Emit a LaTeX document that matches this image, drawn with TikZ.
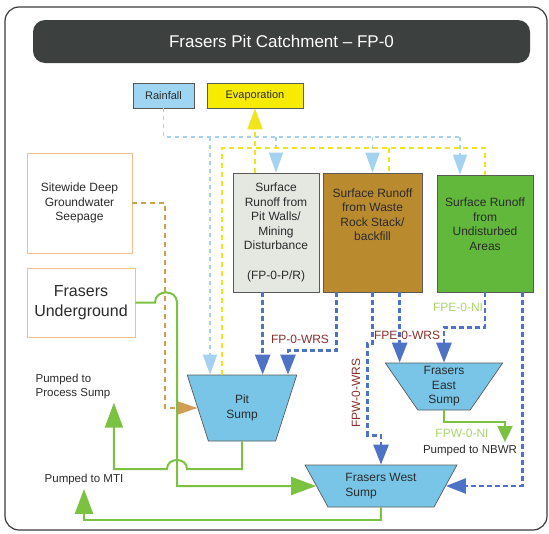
\documentclass[tikz,border=0pt]{standalone}
\usepackage{fontspec}
\setmainfont{Liberation Sans}
\usepackage{tikz}
\usetikzlibrary{shapes.geometric,arrows.meta}
\definecolor{framegray}{HTML}{3A3A3A}
\definecolor{titlegray}{HTML}{3C403E}
\definecolor{inkgray}{HTML}{2B2B2B}
\definecolor{edgegray}{HTML}{5A5A5A}
\definecolor{rainfill}{HTML}{9DD5F2}
\definecolor{evapfill}{HTML}{F7EC00}
\definecolor{gwedge}{HTML}{F2BE8C}
\definecolor{pitfill}{HTML}{E5E7E1}
\definecolor{rockfill}{HTML}{B98A2E}
\definecolor{greenfill}{HTML}{62B83A}
\definecolor{sumpfill}{HTML}{78C5E8}
\definecolor{rainblue}{HTML}{A4D2F0}
\definecolor{evapyellow}{HTML}{F0E41A}
\definecolor{wrsblue}{HTML}{4E72C4}
\definecolor{seeporange}{HTML}{CF9D54}
\definecolor{pumpgreen}{HTML}{7CC242}
\definecolor{wrsred}{HTML}{8A2E2E}
\definecolor{nigreen}{HTML}{A9D66B}

\begin{document}
\begin{tikzpicture}[x=1pt,y=-1pt,
                    every node/.style={text=inkgray,font=\fontsize{12}{14.5}\selectfont},
                    titlebar/.style={fill=titlegray,rounded corners=12pt,text=white,
                                     font=\fontsize{17}{20}\selectfont},
                    metbox/.style={draw=edgegray,line width=0.7pt,inner sep=0pt,
                                   minimum height=25pt,font=\fontsize{11}{13}\selectfont},
                    gwbox/.style={draw=gwedge,line width=0.8pt,fill=white,align=center},
                    runoff/.style={draw=edgegray,line width=0.7pt,align=center},
                    sump/.style={trapezium,trapezium stretches=true,shape border rotate=180,
                                 draw=edgegray,line width=0.7pt,fill=sumpfill,inner sep=0pt,
                                 align=center},
                    wrslabel/.style={text=wrsred,inner sep=1pt},
                    nilabel/.style={text=nigreen,inner sep=1pt},
                    pumplabel/.style={font=\fontsize{11.5}{14.5}\selectfont},
                    raindash/.style={draw=rainblue,line width=1.6pt,dash pattern=on 4pt off 4pt},
                    evapdash/.style={draw=evapyellow,line width=2pt,dash pattern=on 5pt off 4pt},
                    wrsdash/.style={draw=wrsblue,line width=2.6pt,dash pattern=on 5pt off 3pt},
                    seepdash/.style={draw=seeporange,line width=2pt,dash pattern=on 5pt off 4pt},
                    pumpline/.style={draw=pumpgreen,line width=2pt},
                    raintip/.style={-{Triangle[width=14pt,length=20pt,fill=rainblue]}},
                    evaptip/.style={-{Triangle[width=15pt,length=21pt,fill=evapyellow]}},
                    wrstip/.style={-{Triangle[width=15pt,length=20pt,fill=wrsblue]}},
                    seeptip/.style={-{Triangle[width=13pt,length=20pt,fill=seeporange]}},
                    pumptip/.style={-{Triangle[width=18pt,length=25pt,fill=pumpgreen]}},
                    nbwrtip/.style={-{Triangle[width=15pt,length=16pt,fill=pumpgreen]}}]
    \useasboundingbox (0,0) rectangle (549,533);
    \draw[framegray,line width=1.2pt,rounded corners=14pt] (5,7) rectangle (547,530);
    \node[titlebar,minimum width=497pt,minimum height=43pt] (title) at (281.5,41.5)
        {Frasers Pit Catchment – FP-0};
    \node[metbox,fill=rainfill,minimum width=61pt] (rain) at (163.5,95.5) {Rainfall};
    \node[metbox,fill=evapfill,minimum width=96pt] (evap) at (255,95.5) {Evaporation};
    \node[gwbox,minimum width=105pt,minimum height=100pt] (seep) at (79.5,203)
        {Sitewide Deep\\Groundwater\\Seepage};
    \node[gwbox,minimum width=108pt,minimum height=69pt,
          font=\fontsize{16}{20}\selectfont] (under) at (81,302.5) {Frasers\\Underground};
    \node[runoff,fill=pitfill,minimum width=86pt,minimum height=119pt] (pitwall) at (276,232.5)
        {Surface\\Runoff from\\Pit Walls/\\Mining\\Disturbance\\[15pt](FP-0-P/R)};
    \node[runoff,fill=rockfill,minimum width=99pt,minimum height=119pt] (wasterock) at (372.5,232.5)
        {Surface Runoff\\from Waste\\Rock Stack/\\backfill\\[17pt]\strut};
    \node[runoff,fill=greenfill,minimum width=96pt,minimum height=117pt] (undist) at (485,233.5)
        {Surface Runoff\\from\\Undisturbed\\Areas\\[0pt]\strut};
    \node[sump,minimum width=110pt,minimum height=66pt,trapezium angle=69] (pit) at (242,408)
        {Pit\\Sump};
    \node[sump,minimum width=118pt,minimum height=47pt,trapezium angle=57.5] (east) at (444,386.5)
        {Frasers\\East\\Sump};
    \node[sump,minimum width=152pt,minimum height=42pt,trapezium angle=58.7,align=left] (west)
        at (381,486) {Frasers West\\Sump};
    \node[pumplabel,align=left] (procsump) at (73,386.5) {Pumped to\\Process Sump};
    \node[pumplabel] (mti) at (84,480) {Pumped to MTI};
    \node[pumplabel] (nbwr) at (470,451) {Pumped to NBWR};

    \coordinate (rainbus) at (460,137);
    \coordinate (rainpit) at (210,137);
    \coordinate (evapbus) at (222,148);
    \coordinate (evapend) at (485,148);
    \coordinate (evaprock) at (389,148);
    \coordinate (pwout) at ([xshift=30pt]pitwall.south west);
    \coordinate (wrout) at ([xshift=14pt]wasterock.south west);
    \coordinate (weout) at ([xshift=77pt]wasterock.south west);
    \coordinate (udout) at ([xshift=-11pt]undist.south east);
    \coordinate (pitin) at ([xshift=46pt]pit.north);
    \coordinate (nbwrin) at ([xshift=35pt]nbwr.north);

    \draw[raindash] (rain.south) |- (rainbus);
    \draw[raindash,raintip] (rainpit) -- (rainpit |- pit.north);
    \draw[raindash,raintip] (pitwall.north |- rainbus) -- (pitwall.north);
    \draw[raindash,raintip] (wasterock.north |- rainbus) -- (wasterock.north);
    \draw[raindash,raintip] (rainbus) -- (rainbus |- undist.north);
    \draw[evapdash] (evapbus |- pit.north) -- (evapbus) -- (evapend) -- (evapend |- undist.north);
    \draw[evapdash] (evaprock) -- (evaprock |- wasterock.north);
    \draw[evapdash,evaptip] (evap.south |- pitwall.north) -- (evap.south);

    \draw[seepdash,seeptip] (seep.east) -- ++(33,0) |- (pit.west);

    \draw[wrsdash,wrstip] (pwout) -- (pwout |- pit.north);
    \draw[wrsdash,wrstip] (wrout) -- ++(0,58) -| (pitin);
    \draw[wrsdash,wrstip] (wasterock.south) -- ++(0,51) -- ++(-5,0) -- ++(0,92) -| (west.north);
    \draw[wrsdash,wrstip] (weout) -- (weout |- east.north);
    \draw[wrsdash,wrstip] (undist.south) -- ++(0,35) -| (east.north);
    \draw[wrsdash,wrstip] (udout) |- (west.east);

    \draw[pumpline,pumptip] (under.east) -- (155,302.5) .. controls (155,289) and (177,289) ..
        (177,302.5) |- (west.west);
    \draw[pumpline,pumptip] (pit.south) |- (187,469) .. controls (187,457) and (167,457) ..
        (167,469) -| (procsump.south east);
    \draw[pumpline,pumptip] (west.south) -- ++(0,13) -| (mti.south);
    \draw[pumpline,nbwrtip] (east.south) -- ++(0,12) -| (nbwrin);

    \node[wrslabel] (fpwrs) at (300,339) {FP-0-WRS};
    \node[wrslabel] (fpewrs) at (407,335) {FPE-0-WRS};
    \node[wrslabel,rotate=90] (fpwwrs) at (356,393) {FPW-0-WRS};
    \node[nilabel] (fpeni) at (458,307) {FPE-0-NI};
    \node[nilabel] (fpwni) at (462,433) {FPW-0-NI};
\end{tikzpicture}
\end{document}
